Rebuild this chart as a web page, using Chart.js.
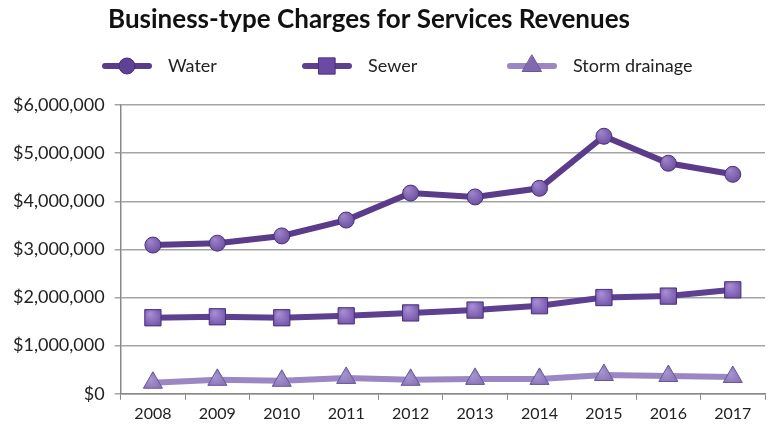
<!DOCTYPE html>
<html>
<head>
<meta charset="utf-8">
<script src="https://cdn.jsdelivr.net/npm/chart.js@4/dist/chart.umd.min.js"></script>
<style>
  body { margin: 0; background: #fff; }
  #wrap { width: 770px; height: 431px; }
</style>
</head>
<body>
<div id="wrap"><canvas id="revChart" width="770" height="431"></canvas></div>
<script>
const years = ['2008', '2009', '2010', '2011', '2012', '2013', '2014', '2015', '2016', '2017'];
const water = [3090000, 3130000, 3280000, 3610000, 4170000, 4090000, 4270000, 5350000, 4790000, 4560000];
const sewer = [1580000, 1600000, 1580000, 1620000, 1680000, 1740000, 1830000, 2000000, 2030000, 2160000];
const storm = [230000, 290000, 270000, 330000, 290000, 310000, 310000, 390000, 370000, 350000];

const FONT = 'Lato, "Open Sans", sans-serif';

// marker fill with a soft highlight toward the upper left
function shaded(base, light) {
  return ctx => {
    if (ctx.type !== 'data') return base;
    const c = ctx.chart;
    if (!c.scales.x || !c.scales.y) return base;
    const x = c.scales.x.getPixelForValue(ctx.dataIndex);
    const y = c.scales.y.getPixelForValue(ctx.raw);
    if (!isFinite(x) || !isFinite(y)) return base;
    const g = c.ctx.createRadialGradient(x - 3, y - 4, 1, x, y, 12);
    g.addColorStop(0, light);
    g.addColorStop(1, base);
    return g;
  };
}

const markerBase = ['#5f4196', '#6a4aa3', '#8069b0'];

// title + legend (line with marker) drawn above the plot
const headerPlugin = {
  id: 'header',
  afterDraw(chart) {
    const ctx = chart.ctx;
    ctx.save();
    ctx.fillStyle = '#111';
    ctx.font = 'bold 26px ' + FONT;
    ctx.textAlign = 'left';
    ctx.textBaseline = 'middle';
    ctx.fillText('Business-type Charges for Services Revenues', 108, 20);

    const slots = [105, 305, 510];
    chart.data.datasets.forEach((ds, i) => {
      const x0 = slots[i], y = 66;
      ctx.strokeStyle = ds.borderColor;
      ctx.lineWidth = 6;
      ctx.lineCap = 'round';
      ctx.beginPath();
      ctx.moveTo(x0, y);
      ctx.lineTo(x0 + 44, y);
      ctx.stroke();
      ctx.fillStyle = markerBase[i];
      ctx.strokeStyle = ds.pointBorderColor;
      ctx.lineWidth = 1;
      Chart.helpers.drawPoint(ctx, {
        pointStyle: ds.pointStyle, radius: ds.pointRadius, rotation: 0, borderWidth: 1
      }, x0 + 22, y);
      ctx.fillStyle = '#222';
      ctx.font = '18px ' + FONT;
      ctx.fillText(ds.label, x0 + 63, y);
    });
    ctx.restore();
  }
};

new Chart(document.getElementById('revChart'), {
  type: 'line',
  data: {
    labels: years,
    datasets: [
      {
        label: 'Water', data: water,
        borderColor: '#5a3c8b', borderWidth: 6,
        pointStyle: 'circle', pointRadius: 8,
        pointBackgroundColor: shaded(markerBase[0], '#9c82c8'),
        pointBorderColor: '#48307a', pointBorderWidth: 1
      },
      {
        label: 'Sewer', data: sewer,
        borderColor: '#5e4091', borderWidth: 6,
        pointStyle: 'rect', pointRadius: 11.5,
        pointBackgroundColor: shaded(markerBase[1], '#a58bd2'),
        pointBorderColor: '#48307a', pointBorderWidth: 1
      },
      {
        label: 'Storm drainage', data: storm,
        borderColor: '#9a87c3', borderWidth: 6,
        pointStyle: 'triangle', pointRadius: 11,
        pointBackgroundColor: shaded(markerBase[2], '#a594cf'),
        pointBorderColor: '#6a5698', pointBorderWidth: 1
      }
    ]
  },
  options: {
    responsive: false,
    animation: false,
    layout: { autoPadding: false, padding: { top: 105, right: 5, left: 3, bottom: 4 } },
    plugins: {
      legend: { display: false },
      title: { display: false },
      tooltip: { enabled: false }
    },
    scales: {
      x: {
        offset: true,
        grid: { offset: true, drawOnChartArea: false, drawTicks: true, tickLength: 6, color: '#888' },
        border: { color: '#888', width: 1.5 },
        ticks: { color: '#222', font: { family: FONT, size: 16 }, padding: 4, maxRotation: 0 }
      },
      y: {
        min: 0, max: 6000000,
        ticks: {
          stepSize: 1000000,
          color: '#222',
          font: { family: FONT, size: 18 },
          padding: 10,
          callback: v => '$' + v.toLocaleString('en-US')
        },
        grid: { color: '#a4a4a4', lineWidth: 1.5, tickLength: 6 },
        border: { color: '#888', width: 1.5 }
      }
    }
  },
  plugins: [headerPlugin]
});
</script>
</body>
</html>
